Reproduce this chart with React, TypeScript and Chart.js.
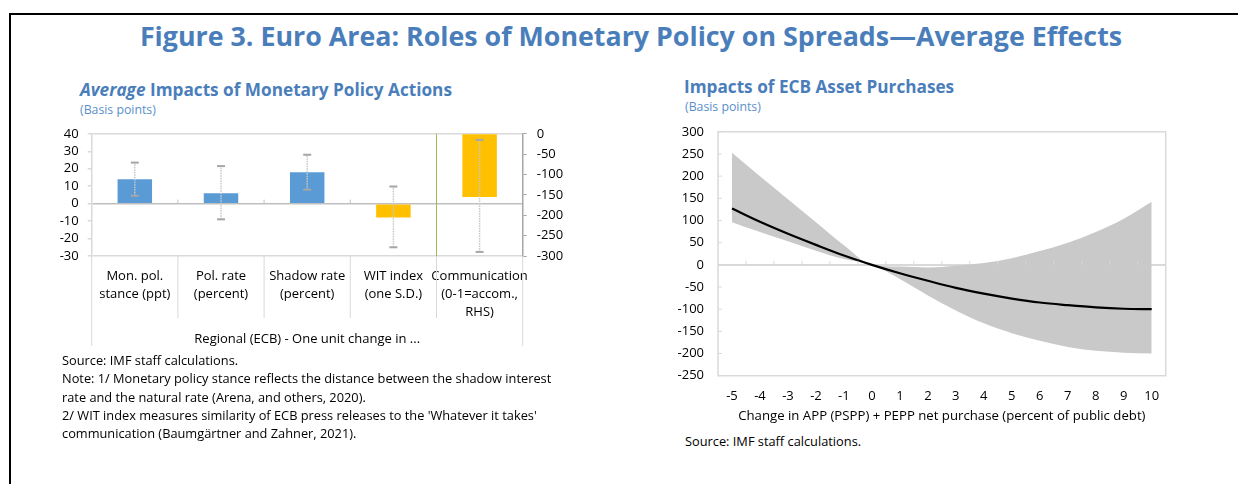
import React, { useEffect, useRef } from "react";
import { Chart, registerables } from "chart.js";

Chart.register(...registerables);

const FONT = "'Open Sans', 'Noto Sans', sans-serif";
const TITLE_BLUE = "#4A7EBB";
const SUB_BLUE = "#5A8FCB";

// ---- Left chart data ----
const actionCategories = [
  ["Mon. pol.", "stance (ppt)"],
  ["Pol. rate", "(percent)"],
  ["Shadow rate", "(percent)"],
  ["WIT index", "(one S.D.)"],
  ["Communication", "(0-1=accom.,", "RHS)"],
];
const blueBars = [14, 6, 18, null, null];
const yellowBarsLHS = [null, null, null, -8, null];
const yellowBarsRHS = [null, null, null, null, -155];
const errLow = [4.5, -9, 8, -25, -290];
const errHigh = [23.5, 21.5, 28, 9.8, -15];
const errAxis = ["y", "y", "y", "y", "y1"];
const leftTicksLHS = { min: -30, max: 40, step: 10 };
const leftTicksRHS = { min: -300, max: 0, step: 50 };

// ---- Right chart data ----
const purchaseX = ["-5", "-4", "-3", "-2", "-1", "0", "1", "2", "3", "4", "5", "6", "7", "8", "9", "10"];
const meanEffect = [127, 97, 70, 45, 21, 0, -19, -36, -52, -65, -76, -85, -91, -96, -99, -100];
const upperBand = [253, 200, 148, 96, 44, 0, -4, -6, -2, 4, 15, 31, 50, 74, 104, 142];
const lowerBand = [96, 74, 53, 32, 13, 0, -32, -69, -103, -132, -154, -171, -185, -194, -198, -200];
const rightTicks = { min: -250, max: 300, step: 50 };

const tickFont = { family: FONT, size: 13 };

const leftPlugin = {
  id: "leftExtras",
  afterDatasetsDraw(chart: any) {
    const { ctx, chartArea, scales } = chart;
    const xs = scales.x;
    const n = actionCategories.length;
    const bounds: number[] = [];
    for (let i = 0; i <= n; i++) {
      if (i === 0) bounds.push(chartArea.left);
      else if (i === n) bounds.push(chartArea.right);
      else bounds.push((xs.getPixelForTick(i - 1) + xs.getPixelForTick(i)) / 2);
    }
    const y0 = scales.y.getPixelForValue(0);
    ctx.save();
    ctx.strokeStyle = "#D9D9D9";
    ctx.lineWidth = 1;
    for (let i = 0; i <= n; i++) {
      const outer = i === 0 || i === n;
      ctx.beginPath();
      ctx.moveTo(bounds[i], chartArea.bottom);
      ctx.lineTo(bounds[i], chartArea.bottom + (outer ? 90 : 62));
      ctx.stroke();
    }
    ctx.strokeStyle = "#BFBFBF";
    for (let i = 1; i < n; i++) {
      ctx.beginPath();
      ctx.moveTo(bounds[i], y0);
      ctx.lineTo(bounds[i], y0 - 4);
      ctx.stroke();
    }
    ctx.strokeStyle = "#9BBB59";
    ctx.lineWidth = 1;
    ctx.beginPath();
    ctx.moveTo(bounds[4], chartArea.top);
    ctx.lineTo(bounds[4], chartArea.bottom);
    ctx.stroke();
    for (let i = 0; i < n; i++) {
      const sc = scales[errAxis[i]];
      const cx = xs.getPixelForTick(i);
      const yl = sc.getPixelForValue(errLow[i]);
      const yh = sc.getPixelForValue(errHigh[i]);
      ctx.strokeStyle = "#C8C8C8";
      ctx.lineWidth = 1.5;
      ctx.setLineDash([1.5, 1]);
      ctx.beginPath();
      ctx.moveTo(cx, yl);
      ctx.lineTo(cx, yh);
      ctx.stroke();
      ctx.setLineDash([]);
      ctx.strokeStyle = "#A6A6A6";
      ctx.lineWidth = 2;
      for (const yy of [yl, yh]) {
        ctx.beginPath();
        ctx.moveTo(cx - 4, yy);
        ctx.lineTo(cx + 4, yy);
        ctx.stroke();
      }
    }
    ctx.restore();
  },
};

const rightPlugin = {
  id: "rightExtras",
  afterDraw(chart: any) {
    const { ctx, chartArea, scales } = chart;
    const xs = scales.x;
    const ys = scales.y;
    const n = purchaseX.length;
    const y0 = ys.getPixelForValue(0);
    ctx.save();
    ctx.strokeStyle = "#D9D9D9";
    ctx.lineWidth = 1.5;
    ctx.strokeRect(chartArea.left, chartArea.top, chartArea.right - chartArea.left, chartArea.bottom - chartArea.top);
    ctx.lineWidth = 1;
    for (let i = 1; i < n; i++) {
      const bx = (xs.getPixelForTick(i - 1) + xs.getPixelForTick(i)) / 2;
      ctx.beginPath();
      ctx.moveTo(bx, y0);
      ctx.lineTo(bx, y0 - 4);
      ctx.stroke();
    }
    for (let v = rightTicks.min; v <= rightTicks.max; v += rightTicks.step) {
      const yy = ys.getPixelForValue(v);
      ctx.beginPath();
      ctx.moveTo(chartArea.left, yy);
      ctx.lineTo(chartArea.left + 4, yy);
      ctx.stroke();
    }
    ctx.restore();
  },
};

function LeftChart() {
  const ref = useRef<HTMLCanvasElement>(null);
  useEffect(() => {
    const chart = new Chart(ref.current as HTMLCanvasElement, {
      type: "bar",
      data: {
        labels: actionCategories as any,
        datasets: [
          { data: blueBars, backgroundColor: "#5B9BD5", yAxisID: "y" },
          { data: yellowBarsLHS, backgroundColor: "#FFC000", yAxisID: "y" },
          { data: yellowBarsRHS, backgroundColor: "#FFC000", yAxisID: "y1" },
        ] as any,
      },
      options: {
        animation: false,
        responsive: false,
        maintainAspectRatio: false,
        layout: { padding: { top: 0, left: 0, right: 0, bottom: 0 } },
        datasets: { bar: { grouped: false, barPercentage: 0.4, categoryPercentage: 1 } } as any,
        plugins: { legend: { display: false }, tooltip: { enabled: false } },
        scales: {
          x: {
            type: "category",
            offset: true,
            grid: { display: false, drawTicks: false },
            border: { display: false },
            ticks: {
              font: { ...tickFont, lineHeight: 1.385 },
              color: "#000",
              padding: 11,
              autoSkip: false,
              maxRotation: 0,
              minRotation: 0,
            },
            title: {
              display: true,
              text: "Regional (ECB) - One unit change in ...",
              font: { family: FONT, size: 13 },
              color: "#000",
              padding: { top: 0, bottom: 13 },
            },
            afterFit: (s: any) => {
              s.height = 104;
            },
          },
          y: {
            position: "left",
            min: leftTicksLHS.min,
            max: leftTicksLHS.max,
            ticks: { stepSize: leftTicksLHS.step, font: tickFont, color: "#000", padding: 9, autoSkip: false },
            grid: {
              color: (c: any) =>
                c.tick.value === 0 ? "#BFBFBF" : c.tick.value === leftTicksLHS.max || c.tick.value === leftTicksLHS.min ? "#D9D9D9" : "rgba(0,0,0,0)",
              lineWidth: 1.5,
              tickLength: 4,
              tickColor: "#D9D9D9",
            },
            border: { color: "#D9D9D9", width: 1.5 },
            afterFit: (s: any) => {
              s.width = 51.7;
            },
          },
          y1: {
            position: "right",
            min: leftTicksRHS.min,
            max: leftTicksRHS.max,
            ticks: { stepSize: leftTicksRHS.step, font: tickFont, color: "#000", padding: 10, autoSkip: false },
            grid: { drawOnChartArea: false, tickLength: 4, tickColor: "#A6A6A6" },
            border: { color: "#A6A6A6", width: 1.5 },
            afterFit: (s: any) => {
              s.width = 77.3;
            },
          },
        },
      } as any,
      plugins: [leftPlugin],
    });
    return () => chart.destroy();
  }, []);
  return <canvas ref={ref} width={560} height={244} style={{ position: "absolute", left: 40, top: 116, width: 560, height: 244 }} />;
}

function RightChart() {
  const ref = useRef<HTMLCanvasElement>(null);
  useEffect(() => {
    const chart = new Chart(ref.current as HTMLCanvasElement, {
      type: "line",
      data: {
        labels: purchaseX,
        datasets: [
          { data: meanEffect, borderColor: "#000", borderWidth: 2.2, pointRadius: 0, cubicInterpolationMode: "monotone", fill: false },
          { data: upperBand, borderColor: "rgba(0,0,0,0)", borderWidth: 0, backgroundColor: "#C9C9C9", pointRadius: 0, cubicInterpolationMode: "monotone", fill: "+1" },
          { data: lowerBand, borderColor: "rgba(0,0,0,0)", borderWidth: 0, backgroundColor: "#C9C9C9", pointRadius: 0, cubicInterpolationMode: "monotone", fill: false },
        ] as any,
      },
      options: {
        animation: false,
        responsive: false,
        maintainAspectRatio: false,
        layout: { padding: { top: 0, right: 14.3, left: 0, bottom: 0 } },
        plugins: { legend: { display: false }, tooltip: { enabled: false } },
        scales: {
          x: {
            type: "category",
            offset: true,
            grid: { display: false, drawTicks: false },
            border: { display: false },
            ticks: { font: tickFont, color: "#000", padding: 12.5, autoSkip: false, maxRotation: 0, minRotation: 0 },
            title: {
              display: true,
              text: "Change in APP (PSPP) + PEPP net purchase (percent of public debt)",
              font: { family: FONT, size: 13.2 },
              color: "#000",
              padding: { top: 0, bottom: 4.2 },
            },
            afterFit: (s: any) => {
              s.height = 52.3;
            },
          },
          y: {
            min: rightTicks.min,
            max: rightTicks.max,
            ticks: { stepSize: rightTicks.step, font: tickFont, color: "#000", padding: 14, autoSkip: false },
            grid: {
              drawTicks: false,
              color: (c: any) => (c.tick.value === 0 ? "#D9D9D9" : "rgba(0,0,0,0)"),
              lineWidth: (c: any) => (c.tick.value === 0 ? 2 : 0),
            },
            border: { display: false },
            afterFit: (s: any) => {
              s.width = 58;
            },
          },
        },
      } as any,
      plugins: [rightPlugin],
    });
    return () => chart.destroy();
  }, []);
  return <canvas ref={ref} width={520} height={318} style={{ position: "absolute", left: 660, top: 110, width: 520, height: 318 }} />;
}

const abs = (left: number, top: number, extra: any = {}) => ({
  position: "absolute" as const,
  left,
  top,
  whiteSpace: "nowrap" as const,
  margin: 0,
  ...extra,
});

export default function App() {
  const noteStyle = { fontSize: 12.8, lineHeight: "18.3px", color: "#000" };
  return (
    <div style={{ position: "fixed", left: 0, top: 0, width: 1238, height: 484, background: "#fff", overflow: "hidden", fontFamily: FONT }}>
      <div style={{ position: "absolute", left: 9, top: 13, width: 1300, height: 500, borderLeft: "2px solid #000", borderTop: "2px solid #000" }} />
      <div style={abs(131, 21, { width: 1000, textAlign: "center", fontSize: 26.8, lineHeight: "30px", fontWeight: 700, color: TITLE_BLUE })}>
        Figure 3. Euro Area: Roles of Monetary Policy on Spreads—Average Effects
      </div>
      <div style={abs(80, 80, { fontSize: 17.2, lineHeight: "20px", fontWeight: 700, color: TITLE_BLUE })}>
        <i>Average</i> Impacts of Monetary Policy Actions
      </div>
      <div style={abs(80, 102, { fontSize: 12.3, lineHeight: "16px", color: SUB_BLUE })}>(Basis points)</div>
      <div style={abs(684, 77, { fontSize: 17.2, lineHeight: "20px", fontWeight: 700, color: TITLE_BLUE })}>Impacts of ECB Asset Purchases</div>
      <div style={abs(685, 99, { fontSize: 12.3, lineHeight: "16px", color: SUB_BLUE })}>(Basis points)</div>

      <LeftChart />
      <RightChart />

      <div style={abs(62, 351, noteStyle)}>
        <div>Source: IMF staff calculations.</div>
        <div>Note: 1/ Monetary policy stance reflects the distance between the shadow interest</div>
        <div>rate and the natural rate (Arena, and others, 2020).</div>
        <div>2/ WIT index measures similarity of ECB press releases to the 'Whatever it takes'</div>
        <div>communication (Baumgärtner and Zahner, 2021).</div>
      </div>
      <div style={abs(685, 432, noteStyle)}>Source: IMF staff calculations.</div>
    </div>
  );
}
